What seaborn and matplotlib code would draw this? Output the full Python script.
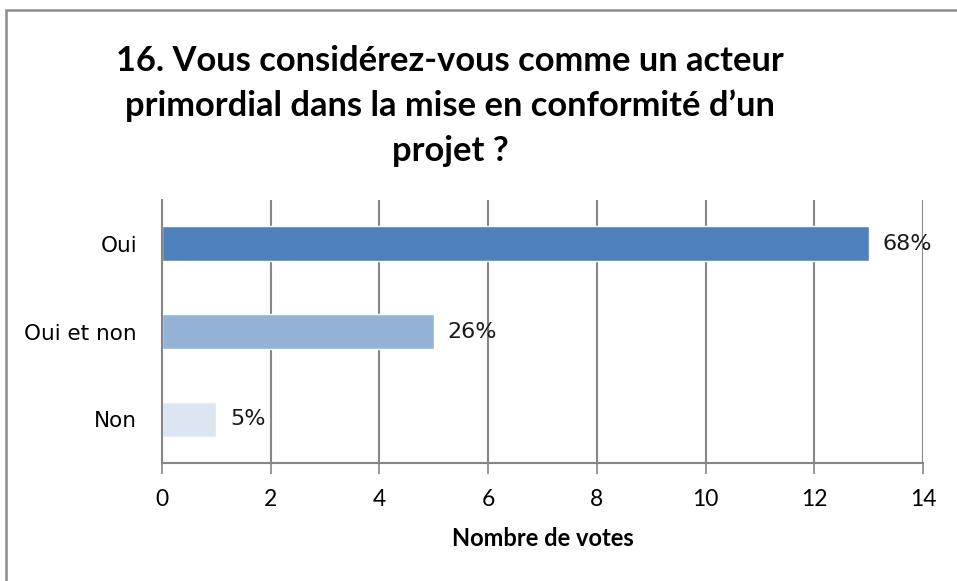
import matplotlib
matplotlib.use("Agg")
import matplotlib.pyplot as plt
from matplotlib.patches import Rectangle
import seaborn as sns
import pandas as pd

# Survey responses
categories = ["Oui", "Oui et non", "Non"]
votes = [13, 5, 1]
percent_labels = ["68%", "26%", "5%"]
bar_colors = ["#4F81BD", "#95B3D7", "#DCE6F2"]
x_ticks = [0, 2, 4, 6, 8, 10, 12, 14]

title = "16. Vous considérez-vous comme un acteur\nprimordial dans la mise en conformité d\u2019un\nprojet ?"
x_label = "Nombre de votes"

df = pd.DataFrame({"categorie": categories, "votes": votes})

sns.set_theme(style="white")
plt.rcParams["font.family"] = ["DejaVu Sans"]

W, H = 957, 581
fig = plt.figure(figsize=(W / 100, H / 100), dpi=100)
ax = fig.add_axes([162 / W, 1 - 463 / H, (923 - 162) / W, (463 - 200) / H])

sns.barplot(data=df, x="votes", y="categorie", hue="categorie",
            palette=bar_colors, order=categories, hue_order=categories,
            width=0.4, legend=False, ax=ax, saturation=1)

ax.set_xlim(0, 14)
ax.set_ylim(2.5, -0.5)
ax.set_xticks(x_ticks)
ax.set_xticklabels([str(t) for t in x_ticks], fontfamily="Lato", fontsize=16.5)
ax.tick_params(axis="x", length=8, width=1.2, color="#868686", pad=11,
               direction="out", bottom=True, labelcolor="black")
ax.tick_params(axis="y", length=0, pad=18, labelsize=15.5, labelcolor="black")

grid_color = "#868686"
ax.xaxis.grid(True, color=grid_color, linewidth=1.5)
ax.set_axisbelow(True)
for side in ["top", "right"]:
    ax.spines[side].set_visible(False)
ax.spines["left"].set_color(grid_color)
ax.spines["left"].set_linewidth(1.5)
ax.spines["bottom"].set_color(grid_color)
ax.spines["bottom"].set_linewidth(1.5)

ax.set_ylabel("")
ax.set_xlabel(x_label, fontfamily="Lato", fontweight="bold", fontsize=17,
              labelpad=12, color="black")

for i, (v, lab) in enumerate(zip(votes, percent_labels)):
    ax.annotate(lab, xy=(v, i), xytext=(10, 0), textcoords="offset points",
                va="center", ha="left", fontsize=16, color="#1a1a1a")

fig.text(450 / W, 1 - 106 / H, title, ha="center", va="center",
         fontfamily="Lato", fontweight="bold", fontsize=24.8,
         linespacing=1.5, color="black")

# Outer frame (left and top edges visible)
fig.patches.append(Rectangle((6 / W, -0.5), 2, 1.5 - 10 / H,
                             transform=fig.transFigure, fill=False,
                             edgecolor="#8c8c8c", linewidth=1.8))

fig.savefig("out.png", dpi=100, facecolor="white")
